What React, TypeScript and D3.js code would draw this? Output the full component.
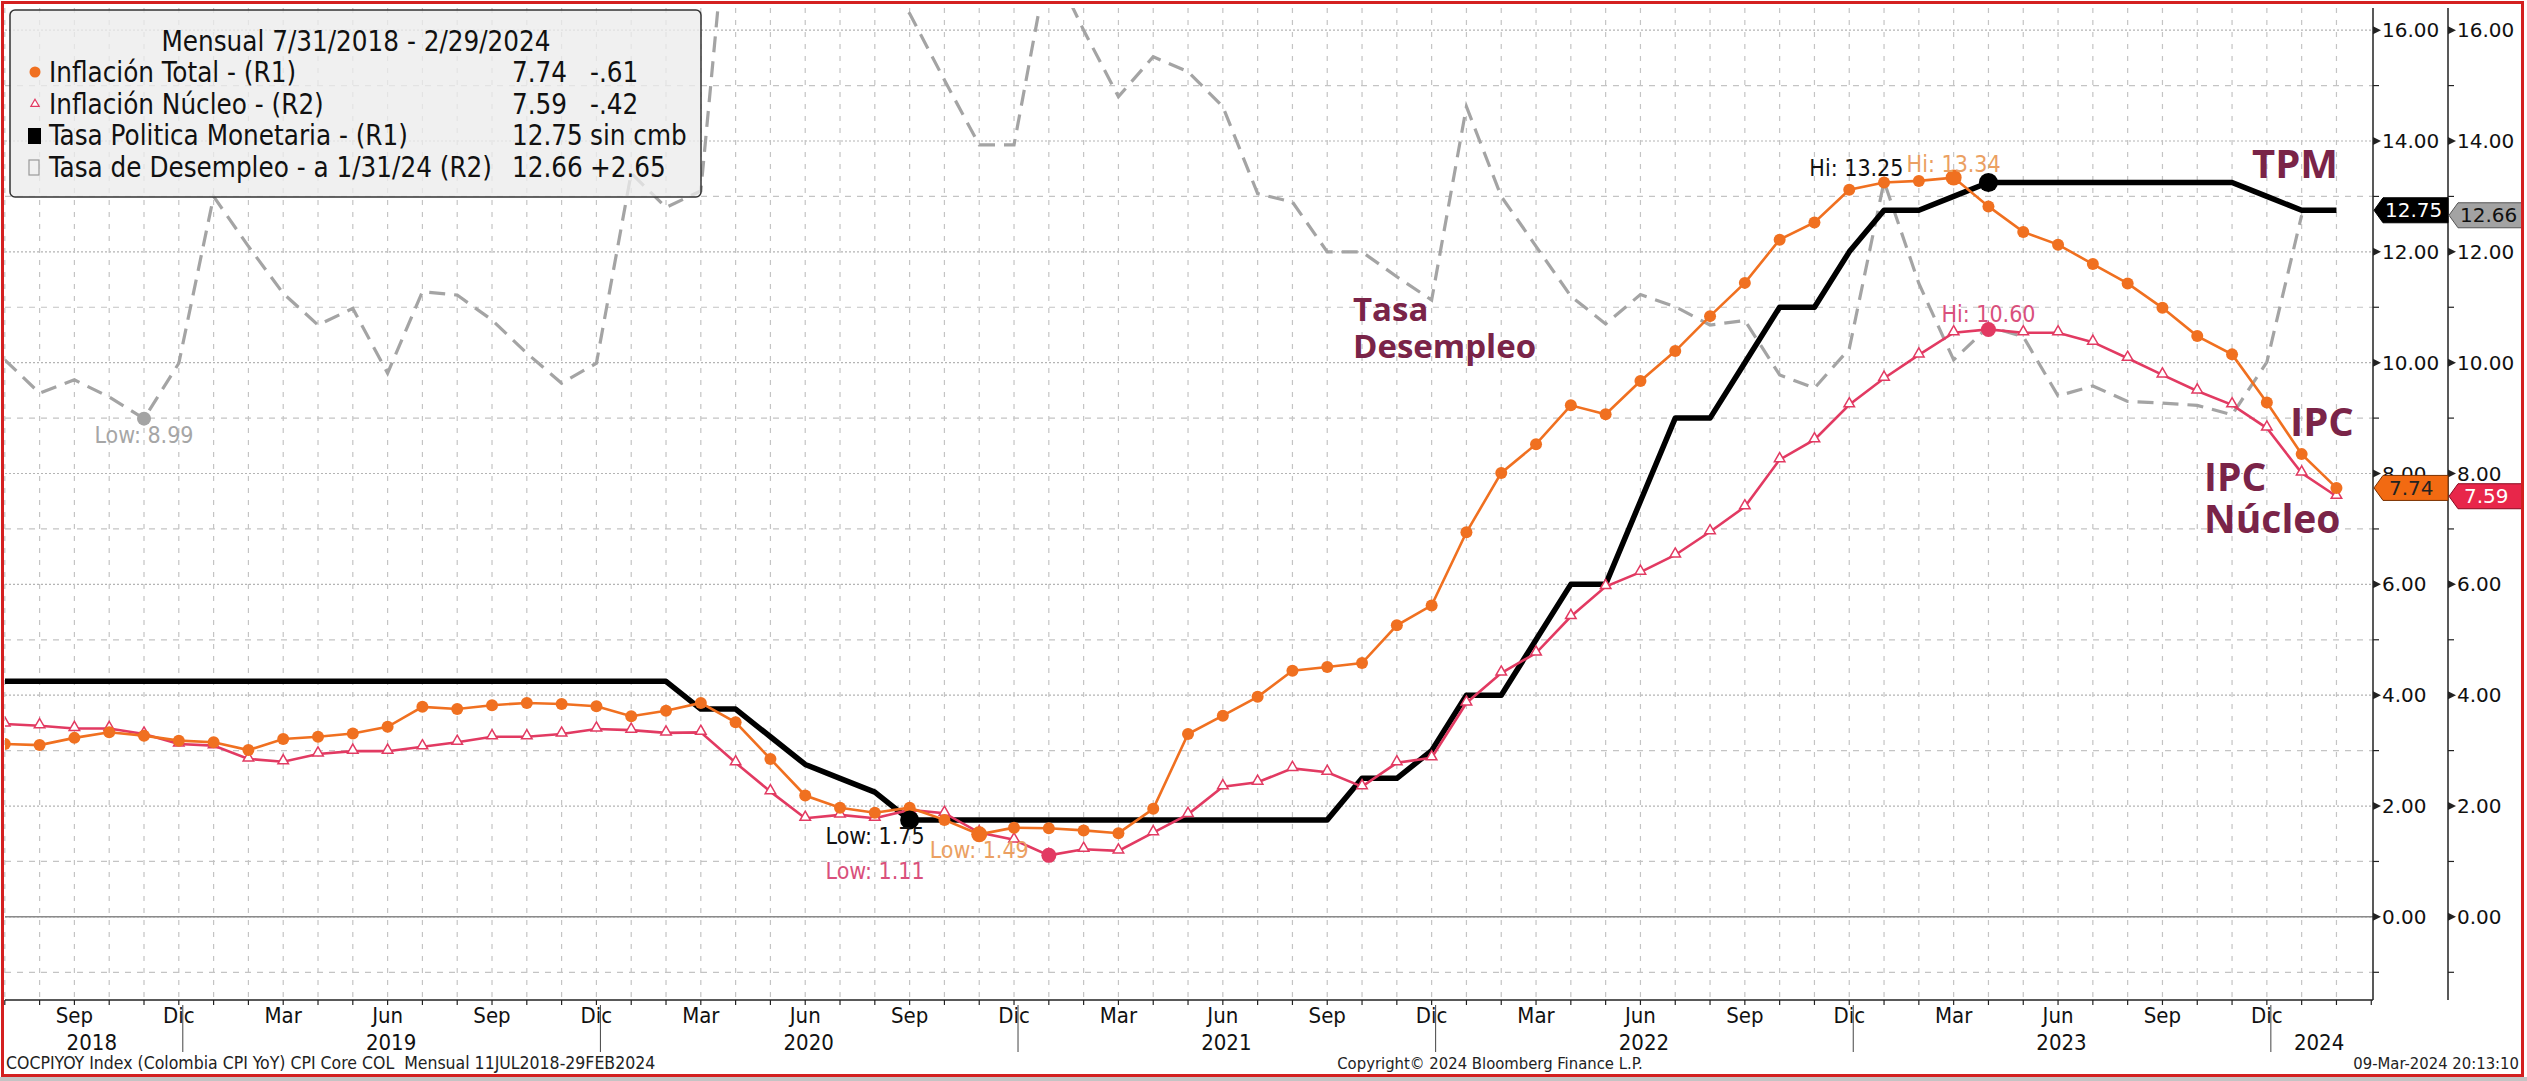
import * as d3 from 'd3'

const FIRST_YEAR = 2018
const FIRST_MONTH = 6 // julio

const inflacionTotal = [
  3.12, 3.1, 3.23, 3.33, 3.27, 3.18,
  3.15, 3.01, 3.21, 3.25, 3.31, 3.43, 3.79, 3.75, 3.82, 3.86, 3.84, 3.8,
  3.62, 3.72, 3.86, 3.51, 2.85, 2.19, 1.97, 1.88, 1.97, 1.75, 1.49, 1.61,
  1.6, 1.56, 1.51, 1.95, 3.3, 3.63, 3.97, 4.44, 4.51, 4.58, 5.26, 5.62,
  6.94, 8.01, 8.53, 9.23, 9.07, 9.67, 10.21, 10.84, 11.44, 12.22, 12.53, 13.12,
  13.25, 13.28, 13.34, 12.82, 12.36, 12.13, 11.78, 11.43, 10.99, 10.48, 10.15, 9.28,
  8.35, 7.74,
]

const inflacionNucleo = [
  3.48, 3.45, 3.4, 3.4, 3.3, 3.12,
  3.09, 2.85, 2.8, 2.94, 2.99, 2.99, 3.07, 3.15, 3.25, 3.25, 3.3, 3.39,
  3.37, 3.32, 3.33, 2.78, 2.26, 1.78, 1.84, 1.78, 1.93, 1.87, 1.52, 1.39,
  1.11, 1.22, 1.19, 1.52, 1.85, 2.35, 2.43, 2.68, 2.61, 2.35, 2.78, 2.87,
  3.86, 4.4, 4.76, 5.42, 5.96, 6.22, 6.53, 6.95, 7.4, 8.25, 8.61, 9.24,
  9.72, 10.14, 10.54, 10.6, 10.54, 10.54, 10.37, 10.08, 9.78, 9.49, 9.24, 8.82,
  8.01, 7.59,
]

const tasaPolitica = [
  4.25, 4.25, 4.25, 4.25, 4.25, 4.25,
  4.25, 4.25, 4.25, 4.25, 4.25, 4.25, 4.25, 4.25, 4.25, 4.25, 4.25, 4.25,
  4.25, 4.25, 3.75, 3.75, 3.25, 2.75, 2.5, 2.25, 1.75, 1.75, 1.75, 1.75,
  1.75, 1.75, 1.75, 1.75, 1.75, 1.75, 1.75, 1.75, 1.75, 2.5, 2.5, 3.0,
  4.0, 4.0, 5.0, 6.0, 6.0, 7.5, 9.0, 9.0, 10.0, 11.0, 11.0, 12.0,
  12.75, 12.75, 13.0, 13.25, 13.25, 13.25, 13.25, 13.25, 13.25, 13.25, 13.25, 13.0,
  12.75, 12.75,
]

const tasaDesempleo: (number | null)[] = [
  10.05, 9.45, 9.69, 9.38, 8.99, 9.99,
  13.0, 12.1, 11.25, 10.68, 10.98, 9.81, 11.28, 11.22, 10.77, 10.17, 9.63, 9.99,
  13.42, 12.8, 13.1, 19.8, 21.4, 19.8, 20.2, 16.8, 16.3, 15.1, 13.93, 13.93,
  17.3, 16.0, 14.8, 15.52, 15.25, 14.62, 13.05, 12.9, 12.0, 12.0, 11.55, 11.13,
  14.62, 13.0, 12.1, 11.2, 10.7, 11.23, 11.01, 10.68, 10.76, 9.78, 9.54, 10.25,
  13.27, 11.43, 10.05, 10.65, 10.47, 9.4, 9.58, 9.3, 9.27, 9.23, 9.06, 10.01,
  12.66, null,
]

const monthNames = ['Ene', 'Feb', 'Mar', 'Abr', 'May', 'Jun', 'Jul', 'Ago', 'Sep', 'Oct', 'Nov', 'Dic']
const labelledMonths = ['Mar', 'Jun', 'Sep', 'Dic']
const yearLabels = ['2018', '2019', '2020', '2021', '2022', '2023', '2024']
const yTicks = [0, 2, 4, 6, 8, 10, 12, 14, 16]

const legendRows = [
  { name: 'Inflación Total - (R1)', value: '7.74', change: '-.61' },
  { name: 'Inflación Núcleo - (R2)', value: '7.59', change: '-.42' },
  { name: 'Tasa Politica Monetaria - (R1)', value: '12.75', change: 'sin cmb' },
  { name: 'Tasa de Desempleo - a 1/31/24 (R2)', value: '12.66', change: '+2.65' },
]

const W = 2527
const H = 1081
const PLOT = { left: 5, right: 2373, top: 8, bottom: 1000 }
const AXIS2 = 2448

const ORANGE = '#F07020'
const PINK = '#E23A62'
const GRAY = '#A4A4A4'
const MAROON = '#7A2448'

const COND = "'DejaVu Sans Condensed', 'Liberation Sans Narrow', 'DejaVu Sans', sans-serif"
const SANS = "'DejaVu Sans', Verdana, sans-serif"
const BOLD = "'Open Sans', Lato, sans-serif"

function monthOf(i: number) {
  return (FIRST_MONTH + i) % 12
}
function yearOf(i: number) {
  return FIRST_YEAR + Math.floor((FIRST_MONTH + i) / 12)
}

function tag(x0: number, yc: number, w: number, h: number) {
  return `M${x0},${yc} L${x0 + 9},${yc - h / 2} L${x0 + w},${yc - h / 2} L${x0 + w},${yc + h / 2} L${x0 + 9},${yc + h / 2} Z`
}

export default function App() {
  const n = inflacionTotal.length
  const x = d3.scaleLinear().domain([0, 68.05]).range([4.8, PLOT.right])
  const y = d3.scaleLinear().domain([-1.5, 16.4]).range([PLOT.bottom, PLOT.top])

  const line = d3
    .line<number | null>()
    .defined((d) => d != null)
    .x((_, i) => x(i))
    .y((d) => y(d as number))

  const tri = d3.symbol(d3.symbolTriangle, 48)()

  const idx = d3.range(n)
  const gridH = d3.range(-1, 17)

  // year label positions: centre of the months of each year
  const years = yearLabels.map((label) => {
    const ms = idx.filter((i) => yearOf(i) === +label)
    const c = (ms[0] + ms[ms.length - 1]) / 2 - (ms.length === 12 ? 0.4 : 0)
    return { label, x: x(c) }
  })
  const yearSeps = idx.filter((i) => monthOf(i) === 11)

  // hi / low markers
  const lowTpm = 26
  const hiTpm = 57
  const hiIpc = 56
  const lowIpc = 28
  const hiCore = 57
  const lowCore = 30
  const lowDes = 4

  const lbl = { fontFamily: COND, fontSize: 23 }

  return (
    <div style={{ position: 'fixed', left: 0, top: 0, background: '#fff' }}>
      <svg width={W} height={H} viewBox={`0 0 ${W} ${H}`} style={{ display: 'block' }}>
        <defs>
          <clipPath id="plot">
            <rect x={PLOT.left} y={PLOT.top} width={PLOT.right - PLOT.left} height={PLOT.bottom - PLOT.top} />
          </clipPath>
        </defs>
        <rect x={0} y={0} width={W} height={H} fill="#fff" />
        <rect x={0} y={1077} width={W} height={4} fill="#c4c4c4" />

        {/* grid */}
        <g>
          {gridH.map((v) => (
            <line
              key={'h' + v}
              x1={PLOT.left}
              x2={PLOT.right}
              y1={y(v)}
              y2={y(v)}
              stroke={v % 2 === 0 ? '#b4b4b4' : '#c4c4c4'}
              strokeWidth={1.2}
              strokeDasharray={v % 2 === 0 ? '2,2' : '6,6'}
            />
          ))}
          {idx.map((i) => (
            <line
              key={'v' + i}
              x1={x(i)}
              x2={x(i)}
              y1={PLOT.top}
              y2={PLOT.bottom}
              stroke="#c4c4c4"
              strokeWidth={1.2}
              strokeDasharray="5,7"
            />
          ))}
          <line x1={PLOT.left} x2={PLOT.right} y1={y(0)} y2={y(0)} stroke="#8a8a8a" strokeWidth={1.5} />
        </g>

        {/* series */}
        <g clipPath="url(#plot)">
          <path d={line(tasaDesempleo) ?? ''} fill="none" stroke={GRAY} strokeWidth={3.2} strokeDasharray="16,9" />
          <path d={line(tasaPolitica) ?? ''} fill="none" stroke="#000" strokeWidth={5.5} strokeLinejoin="round" />
          <path d={line(inflacionNucleo) ?? ''} fill="none" stroke={PINK} strokeWidth={2.6} />
          {inflacionNucleo.map((v, i) => (
            <path key={'t' + i} d={tri ?? ''} transform={`translate(${x(i)},${y(v) - 1})`} fill="#fff" stroke={PINK} strokeWidth={1.5} />
          ))}
          <path d={line(inflacionTotal) ?? ''} fill="none" stroke={ORANGE} strokeWidth={2.6} />
          {inflacionTotal.map((v, i) => (
            <circle key={'c' + i} cx={x(i)} cy={y(v)} r={6} fill={ORANGE} />
          ))}
          <circle cx={x(lowDes)} cy={y(tasaDesempleo[lowDes] as number)} r={7} fill={GRAY} />
          <circle cx={x(lowTpm)} cy={y(tasaPolitica[lowTpm])} r={9.5} fill="#000" />
          <circle cx={x(hiTpm)} cy={y(tasaPolitica[hiTpm])} r={9.5} fill="#000" />
          <circle cx={x(hiIpc)} cy={y(inflacionTotal[hiIpc])} r={8} fill={ORANGE} />
          <circle cx={x(lowIpc)} cy={y(inflacionTotal[lowIpc])} r={8} fill={ORANGE} />
          <circle cx={x(hiCore)} cy={y(inflacionNucleo[hiCore])} r={7.5} fill={PINK} />
          <circle cx={x(lowCore)} cy={y(inflacionNucleo[lowCore])} r={7.5} fill={PINK} />
        </g>

        {/* hi / low labels */}
        <g style={lbl}>
          <text x={x(lowDes)} y={y(8.99) + 24} textAnchor="middle" fill="#a6a6a6">Low: 8.99</text>
          <text x={x(lowTpm) + 15} y={y(1.75) + 24} textAnchor="end" fill="#111">Low: 1.75</text>
          <text x={x(lowIpc)} y={y(1.49) + 24} textAnchor="middle" fill="#EBA062">Low: 1.49</text>
          <text x={x(lowTpm) + 15} y={y(1.11) + 24} textAnchor="end" fill="#D9507C">Low: 1.11</text>
          <text x={x(hiTpm) - 85} y={y(13.25) - 7} textAnchor="end" fill="#111">Hi: 13.25</text>
          <text x={x(hiIpc)} y={y(13.34) - 6} textAnchor="middle" fill="#EBA062">Hi: 13.34</text>
          <text x={x(hiCore)} y={y(10.6) - 7} textAnchor="middle" fill="#D9507C">Hi: 10.60</text>
        </g>

        {/* annotations */}
        <g fontFamily={BOLD} fontWeight={700} fill={MAROON}>
          <text x={2252} y={178} fontSize={40}>TPM</text>
          <text x={2290} y={436} fontSize={40}>IPC</text>
          <text x={2204} y={491} fontSize={39}>
            <tspan x={2204}>IPC</tspan>
            <tspan x={2204} dy={42}>Núcleo</tspan>
          </text>
          <text x={1353} y={321} fontSize={33}>
            <tspan x={1353}>Tasa</tspan>
            <tspan x={1353} dy={37}>Desempleo</tspan>
          </text>
        </g>

        {/* x axis */}
        <line x1={PLOT.left} x2={PLOT.right} y1={PLOT.bottom} y2={PLOT.bottom} stroke="#222" strokeWidth={1.5} />
        {d3.range(n + 1).map((i) => (
          <line key={'xt' + i} x1={x(i)} x2={x(i)} y1={PLOT.bottom} y2={PLOT.bottom + 5} stroke="#222" strokeWidth={1.2} />
        ))}
        {yearSeps.map((i) => (
          <line key={'ys' + i} x1={x(i) + 4} x2={x(i) + 4} y1={PLOT.bottom + 5} y2={1052} stroke="#444" strokeWidth={1} />
        ))}
        <g fontFamily={COND} fontSize={22} fill="#111" textAnchor="middle">
          {idx
            .filter((i) => labelledMonths.includes(monthNames[monthOf(i)]))
            .map((i) => (
              <text key={'ml' + i} x={x(i)} y={1023}>
                {monthNames[monthOf(i)]}
              </text>
            ))}
          {years.map((yr) => (
            <text key={yr.label} x={yr.x} y={1050}>
              {yr.label}
            </text>
          ))}
        </g>

        {/* right axes */}
        {[PLOT.right, AXIS2].map((ax) => (
          <g key={'ax' + ax}>
            <line x1={ax} x2={ax} y1={PLOT.top} y2={PLOT.bottom} stroke="#222" strokeWidth={1.5} />
            {gridH
              .filter((v) => v % 2 !== 0)
              .map((v) => (
                <line key={'mt' + v} x1={ax} x2={ax + 6} y1={y(v)} y2={y(v)} stroke="#222" strokeWidth={1.2} />
              ))}
            {yTicks.map((v) => (
              <g key={'yt' + v}>
                <path d={`M${ax},${y(v) - 4} L${ax + 8},${y(v)} L${ax},${y(v) + 4} Z`} fill="#222" />
                <text x={ax + 9} y={y(v) + 7} fontFamily={SANS} fontSize={20} fill="#111">
                  {d3.format('.2f')(v)}
                </text>
              </g>
            ))}
          </g>
        ))}

        {/* last-value tags */}
        <g fontFamily={SANS} fontSize={20}>
          <path d={tag(PLOT.right + 1, y(12.75), 74, 25)} fill="#000" stroke="#000" />
          <text x={PLOT.right + 12} y={y(12.75) + 7} fill="#fff">12.75</text>
          <path d={tag(AXIS2 + 1, y(12.66), 74, 25)} fill="#a3a3a3" stroke="#555" />
          <text x={AXIS2 + 12} y={y(12.66) + 7} fill="#111">12.66</text>
          <path d={tag(PLOT.right + 1, y(7.74), 74, 25)} fill="#F26A12" stroke="#7a3000" />
          <text x={PLOT.right + 16} y={y(7.74) + 7} fill="#222">7.74</text>
          <path d={tag(AXIS2 + 1, y(7.59), 74, 25)} fill="#E8264A" stroke="#8a0a20" />
          <text x={AXIS2 + 16} y={y(7.59) + 7} fill="#fff">7.59</text>
        </g>

        {/* legend */}
        <g>
          <rect x={10} y={10} width={691} height={187} rx={5} fill="rgba(236,236,236,0.78)" stroke="#333" strokeWidth={1.5} />
          <g fontFamily={COND} fontSize={27.5} fill="#111">
            <text x={356} y={51} textAnchor="middle">Mensual 7/31/2018 - 2/29/2024</text>
            {legendRows.map((r, k) => (
              <g key={r.name}>
                <text x={49} y={82 + k * 31.7}>{r.name}</text>
                <text x={512} y={82 + k * 31.7}>{r.value}</text>
                <text x={590} y={82 + k * 31.7}>{r.change}</text>
              </g>
            ))}
          </g>
          <circle cx={35} cy={72} r={5.5} fill={ORANGE} />
          <path d={d3.symbol(d3.symbolTriangle, 30)() ?? ''} transform="translate(35,104)" fill="#fff" stroke={PINK} strokeWidth={1.2} />
          <rect x={28} y={128} width={13} height={16} fill="#000" />
          <rect x={29} y={160} width={10} height={15} fill="none" stroke="#999" strokeWidth={1.2} />
        </g>

        {/* footer */}
        <g fontFamily={COND} fill="#222">
          <text x={6} y={1069} fontSize={17.5} xmlSpace="preserve">COCPIYOY Index (Colombia CPI YoY) CPI Core COL  Mensual 11JUL2018-29FEB2024</text>
          <text x={1490} y={1069} fontSize={16.5} textAnchor="middle">Copyright© 2024 Bloomberg Finance L.P.</text>
          <text x={2519} y={1069} fontSize={16.5} textAnchor="end">09-Mar-2024 20:13:10</text>
        </g>

        {/* frame */}
        <rect x={2.5} y={2.5} width={2520} height={1073} fill="none" stroke="#D42020" strokeWidth={3} />
      </svg>
    </div>
  )
}
